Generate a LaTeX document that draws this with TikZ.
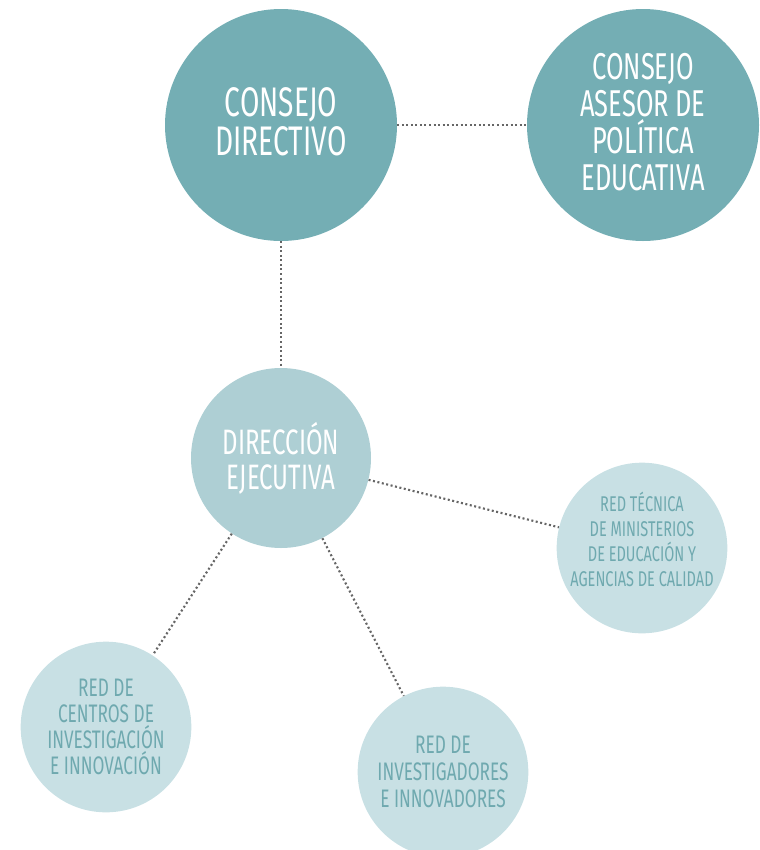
\documentclass[tikz,border=0pt]{standalone}
\usepackage{fontspec}
\setmainfont{Fira Sans}[FakeStretch=0.68]
\definecolor{darkteal}{HTML}{74AEB4}
\definecolor{midteal}{HTML}{AECFD4}
\definecolor{lightteal}{HTML}{C8E0E4}
\definecolor{tealtext}{HTML}{6FA9AF}
\definecolor{dotgray}{HTML}{666666}
\begin{document}
\begin{tikzpicture}[x=0.75pt,y=-0.75pt,
  bigcirc/.style={circle,fill=darkteal,minimum size=174pt,inner sep=0pt},
  midcirc/.style={circle,fill=midteal,minimum size=135pt,inner sep=0pt},
  smallcirc/.style={circle,fill=lightteal,minimum size=128pt,inner sep=0pt},
  bigtext/.style={align=center,text=white},
  smalltext/.style={align=center,text=tealtext},
  dotline/.style={draw=dotgray,line width=1.6pt,dash pattern=on 1.5pt off 1.9pt}]
\useasboundingbox (0,0) rectangle (760,850);
\node[bigcirc,label={[bigtext,font=\fontsize{31}{29.5}\selectfont,yshift=2.2pt]center:{CONSEJO\\DIRECTIVO}}] (cd) at (281,125) {};
\node[bigcirc,label={[bigtext,font=\fontsize{28}{27.8}\selectfont,yshift=2.3pt]center:{CONSEJO\\ASESOR DE\\POLÍTICA\\EDUCATIVA}}] (ca) at (643,125) {};
\node[midcirc,label={[bigtext,font=\fontsize{26.5}{26}\selectfont]center:{DIRECCIÓN\\EJECUTIVA}}] (de) at (281,458) {};
\node[smallcirc,label={[smalltext,font=\fontsize{16}{18.8}\selectfont,yshift=6.3pt]center:{RED TÉCNICA\\DE MINISTERIOS\\DE EDUCACIÓN Y\\AGENCIAS DE CALIDAD}}] (rt) at (642,548) {};
\node[smallcirc,label={[smalltext,font=\fontsize{19}{19.5}\selectfont]center:{RED DE\\CENTROS DE\\INVESTIGACIÓN\\E INNOVACIÓN}}] (rc) at (106,727) {};
\node[smallcirc,label={[smalltext,font=\fontsize{19}{20}\selectfont]center:{RED DE\\INVESTIGADORES\\E INNOVADORES}}] (ri) at (443,772) {};
\draw[dotline] (cd) -- (ca);
\draw[dotline] (cd) -- (de);
\draw[dotline] (de) -- (rt);
\draw[dotline] (de) -- (rc);
\draw[dotline] (de) -- (ri);
\end{tikzpicture}
\end{document}
